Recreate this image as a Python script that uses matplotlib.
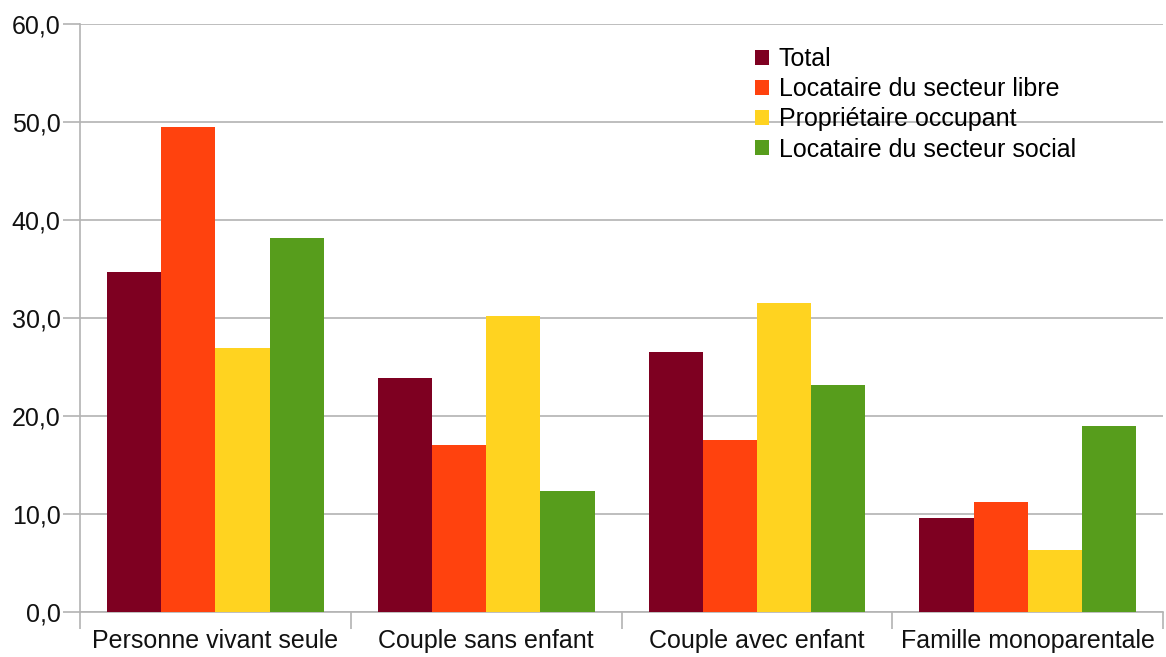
import numpy as np
import matplotlib
matplotlib.use("Agg")
import matplotlib.pyplot as plt
from matplotlib.ticker import FixedLocator, FuncFormatter

plt.rcParams["font.family"] = ["Liberation Sans", "DejaVu Sans"]

categories = ["Personne vivant seule", "Couple sans enfant",
              "Couple avec enfant", "Famille monoparentale"]
series_names = ["Total", "Locataire du secteur libre",
                "Propriétaire occupant", "Locataire du secteur social"]
total = [34.7, 23.9, 26.5, 9.6]
libre = [49.5, 17.0, 17.6, 11.2]
proprio = [26.9, 30.2, 31.5, 6.3]
social = [38.2, 12.3, 23.2, 19.0]
colors = ["#7E0021", "#FF420E", "#FFD320", "#579D1C"]

fig = plt.figure(figsize=(11.66, 6.57), dpi=100)
ax = fig.add_axes([0.0686, 0.0685, 0.929, 0.895])

x = np.arange(len(categories))
width = 0.2
for i, (vals, name, c) in enumerate(zip([total, libre, proprio, social], series_names, colors)):
    ax.bar(x + (i - 1.5) * width, vals, width=width, color=c, label=name, zorder=3)

ax.set_xlim(-0.5, len(categories) - 0.5)
ax.set_ylim(0, 60)
ax.set_yticks(np.arange(0, 61, 10))
ax.yaxis.set_major_formatter(FuncFormatter(lambda v, p: f"{v:.1f}".replace(".", ",")))
ax.grid(axis="y", color="#b3b3b3", linewidth=1.2, zorder=0)

ax.set_xticks(x)
ax.set_xticklabels(categories)
ax.xaxis.set_minor_locator(FixedLocator(np.arange(-0.5, len(categories), 1.0)))
ax.tick_params(axis="x", which="major", length=0, pad=12, labelsize=18, labelcolor="#111111")
ax.tick_params(axis="x", which="minor", length=12, color="#b3b3b3", width=1.2)
ax.tick_params(axis="y", length=12, color="#b3b3b3", width=1.2, labelsize=18, labelcolor="#111111", pad=2)

for s in ["top", "right"]:
    ax.spines[s].set_visible(False)
for s in ["left", "bottom"]:
    ax.spines[s].set_color("#b3b3b3")
    ax.spines[s].set_linewidth(1.2)

ax.legend(loc="upper left", bbox_to_anchor=(0.623, 0.961), frameon=False, fontsize=18,
          handlelength=0.55, handleheight=0.55, handletextpad=0.4, labelspacing=0.25,
          borderaxespad=0, borderpad=0)

fig.savefig("out.png", dpi=100)
